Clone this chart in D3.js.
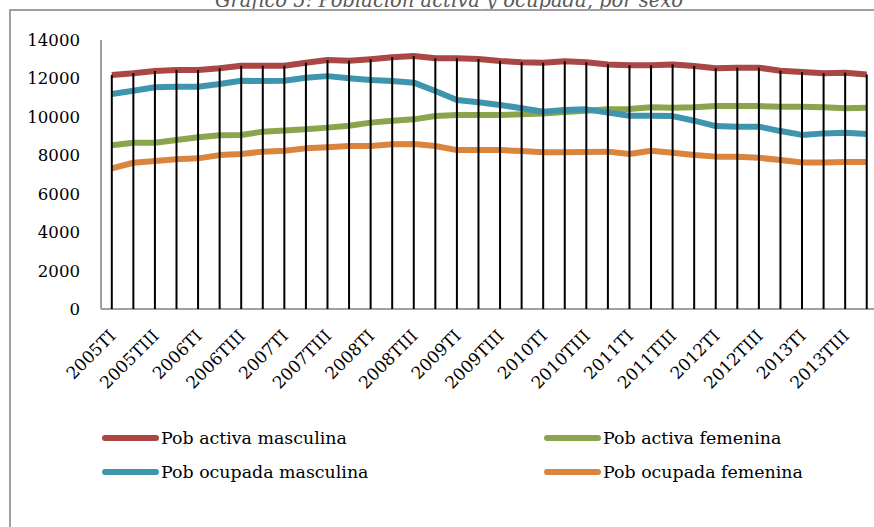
<!DOCTYPE html>
<html>
<head>
<meta charset="utf-8">
<script src="https://cdn.jsdelivr.net/npm/d3@7"></script>
<style>
  body { margin: 0; background: #fff; }
  svg { display: block; }
  text { font-family: "DejaVu Serif", serif; fill: #000; }
</style>
</head>
<body>
<svg id="chart"></svg>
<script>
var width = 874;
var height = 527;

var years = [2005, 2006, 2007, 2008, 2009, 2010, 2011, 2012, 2013];
var trimestres = ["TI", "TII", "TIII", "TIV"];
var quarters = [];
years.forEach(y => trimestres.forEach(t => quarters.push(y + t)));

var activaMasc = [12180, 12270, 12390, 12440, 12440, 12530, 12660, 12660, 12660, 12820, 12960, 12920,
  13000, 13100, 13170, 13050, 13050, 13010, 12910, 12840, 12820, 12890, 12840, 12730,
  12680, 12680, 12730, 12650, 12530, 12560, 12560, 12400, 12330, 12270, 12300, 12210];
var activaFem = [8520, 8650, 8650, 8800, 8940, 9040, 9060, 9230, 9290, 9350, 9440, 9540,
  9700, 9800, 9870, 10040, 10100, 10100, 10100, 10130, 10180, 10250, 10320, 10390,
  10410, 10500, 10480, 10500, 10560, 10560, 10560, 10530, 10530, 10500, 10450, 10480];
var ocupadaMasc = [11190, 11360, 11540, 11570, 11570, 11710, 11880, 11865, 11880, 12040, 12120, 12010,
  11920, 11865, 11780, 11345, 10880, 10760, 10620, 10450, 10270, 10356, 10390, 10220,
  10060, 10060, 10040, 9800, 9520, 9490, 9490, 9260, 9060, 9140, 9170, 9110];
var ocupadaFem = [7320, 7610, 7700, 7790, 7840, 8010, 8070, 8190, 8240, 8360, 8420, 8480,
  8480, 8570, 8590, 8480, 8270, 8270, 8270, 8220, 8160, 8160, 8170, 8190,
  8070, 8240, 8130, 8010, 7930, 7930, 7870, 7750, 7630, 7630, 7650, 7650];

var yTicks = [0, 2000, 4000, 6000, 8000, 10000, 12000, 14000];

var series = [
  { name: "Pob activa masculina", values: activaMasc, color: "#AA4643" },
  { name: "Pob activa femenina", values: activaFem, color: "#89A54E" },
  { name: "Pob ocupada masculina", values: ocupadaMasc, color: "#3D96AE" },
  { name: "Pob ocupada femenina", values: ocupadaFem, color: "#DB843D" }
];

var plotLeft = 101, step = 21.57, plotTop = 40, plotBottom = 309;

var svg = d3.select("#chart")
    .attr("width", width)
    .attr("height", height);

// titulo (cortado por arriba, como en el original)
svg.append("text")
    .attr("x", 449)
    .attr("y", 7)
    .attr("text-anchor", "middle")
    .style("font-style", "italic")
    .style("font-size", "19.5px")
    .style("fill", "#595959")
    .text("Gráfico 5: Población activa y ocupada, por sexo");

// marco
svg.append("rect")
    .attr("x", 10)
    .attr("y", 10)
    .attr("width", 900)
    .attr("height", 600)
    .attr("fill", "none")
    .attr("stroke", "#a0a0a0")
    .attr("stroke-width", 2);

var x = d3.scaleBand()
    .domain(quarters)
    .range([plotLeft, plotLeft + quarters.length * step]);

var y = d3.scaleLinear()
    .domain([0, 14000])
    .range([plotBottom, plotTop]);

var cx = d => x(d) + x.bandwidth() / 2;

// eje y
svg.append("line")
    .attr("x1", plotLeft).attr("x2", plotLeft)
    .attr("y1", plotTop).attr("y2", plotBottom)
    .attr("stroke", "#a0a0a0")
    .attr("stroke-width", 2);

svg.selectAll(".ylab")
  .data(yTicks)
  .enter()
  .append("text")
    .attr("class", "ylab")
    .attr("x", 80)
    .attr("y", d => y(d))
    .attr("dy", "0.36em")
    .attr("text-anchor", "end")
    .style("font-size", "16.6px")
    .text(d => d);

// eje x
svg.append("line")
    .attr("x1", plotLeft).attr("x2", width + 10)
    .attr("y1", plotBottom).attr("y2", plotBottom)
    .attr("stroke", "#a0a0a0")
    .attr("stroke-width", 2);

svg.selectAll(".xlab")
  .data(quarters.filter((d, i) => i % 2 === 0))
  .enter()
  .append("text")
    .attr("class", "xlab")
    .attr("transform", d => "translate(" + (cx(d) + 5) + "," + 337 + ") rotate(-45)")
    .attr("text-anchor", "end")
    .style("font-size", "17px")
    .text(d => d);

// series
var line = d3.line()
    .x((d, i) => cx(quarters[i]))
    .y(d => y(d));

svg.selectAll(".serie")
  .data(series)
  .enter()
  .append("path")
    .attr("class", "serie")
    .attr("fill", "none")
    .attr("stroke", d => d.color)
    .attr("stroke-width", 6)
    .attr("stroke-linejoin", "round")
    .attr("d", d => line(d.values));

// lineas de caida
svg.selectAll(".drop")
  .data(quarters)
  .enter()
  .append("line")
    .attr("class", "drop")
    .attr("x1", d => cx(d))
    .attr("x2", d => cx(d))
    .attr("y1", (d, i) => y(d3.max(series, s => s.values[i])))
    .attr("y2", y(0))
    .attr("stroke", "#000")
    .attr("stroke-width", 2);

// leyenda
var legendPos = [
  { x: 103, y: 438 },
  { x: 545, y: 438 },
  { x: 103, y: 472 },
  { x: 545, y: 472 }
];

var legend = svg.selectAll(".leg")
  .data(series)
  .enter()
  .append("g")
    .attr("class", "leg")
    .attr("transform", (d, i) => "translate(" + legendPos[i].x + "," + legendPos[i].y + ")");

legend.append("line")
    .attr("x1", 2).attr("x2", 53)
    .attr("y1", 0).attr("y2", 0)
    .attr("stroke", d => d.color)
    .attr("stroke-width", 6)
    .attr("stroke-linecap", "round");

legend.append("text")
    .attr("x", 58)
    .attr("y", 0)
    .attr("dy", "0.36em")
    .style("font-size", "17.4px")
    .text(d => d.name);
</script>
</body>
</html>
